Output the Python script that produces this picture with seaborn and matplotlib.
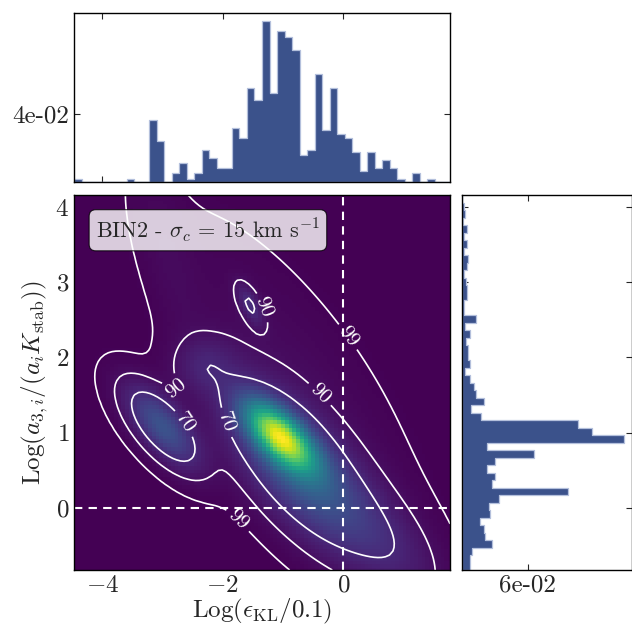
import numpy as np
import pandas as pd
import matplotlib
matplotlib.use("Agg")
import matplotlib.pyplot as plt
import seaborn as sns

# ---------------- data ----------------
x_range = [-4.47, 1.77]          # Log(eps_KL/0.1) span of the sample
y_range = [-0.83, 4.164]         # Log(a3i/(ai Kstab)) span of the sample
n_bins = 50

# fraction of systems per bin (top marginal, left -> right)
top_hist = [0.0016, 0, 0, 0, 0, 0, 0, 0.0016, 0, 0,
            0.0365, 0.0238, 0, 0.0049, 0.0111, 0.0016, 0.0049, 0.0189, 0.0142, 0.0078,
            0.0078, 0.0318, 0.0254, 0.0552, 0.0478, 0.0946, 0.0521, 0.0883, 0.0852, 0.0774,
            0.0158, 0.0189, 0.0632, 0.0302, 0.0552, 0.0283, 0.0254, 0.0174, 0.0062, 0.0174,
            0.0078, 0.0127, 0.0078, 0.0016, 0, 0.0049, 0, 0.0016, 0, 0]

# fraction of systems per bin (right marginal, bottom -> top)
right_hist = [0.0070, 0.0070, 0.0085, 0.0273, 0.0212, 0.0197, 0.0167, 0.0258, 0.0242, 0.0333,
              0.0970, 0.0273, 0.0303, 0.0227, 0.0303, 0.0660, 0.0227, 0.1485, 0.1190, 0.1064,
              0.0176, 0.0080, 0.0203, 0.0127, 0.0112, 0.0067, 0.0024, 0.0067, 0.0048, 0.0050,
              0.0038, 0.0067, 0.0024, 0.0130, 0.0012, 0.0018, 0.0040, 0.0040, 0.0035, 0.0018,
              0.0040, 0.0055, 0.0018, 0.0040, 0.0018, 0.0040, 0.0010, 0.0024, 0.0012, 0]

# 2-D density: components
comp_x       = [-1.05, -0.70, -3.00, -1.55, -0.90, -2.90, 0.80, -2.30]
comp_y       = [ 0.95,  0.50,  1.08,  2.70,  1.90,  3.30, -0.50, 1.90]
comp_s_major = [0.45, 1.00, 0.50, 0.22, 1.70, 0.85, 0.70, 0.35]
comp_s_minor = [0.20, 0.42, 0.22, 0.10, 0.60, 0.28, 0.35, 0.25]
comp_angle   = [-35, -40, -40, -55, -45, -70, -40, 0]
comp_weight  = [0.22, 0.40, 0.09, 0.008, 0.07, 0.015, 0.05, 0.02]

contour_percent = [99, 90, 70]
label_spots = {99: [(-0.05, 2.2), (-1.85, -0.25)],
               90: [(-0.5, 1.42), (-1.44, 2.63), (-2.6, 1.17)],
               70: [(-1.99, 1.12), (-2.88, 0.99)]}
panel_label = r"BIN2 - $\sigma_c$ = 15 km s$^{-1}$"
x_label = r"Log$(\epsilon_{\rm KL}/0.1)$"
y_label = r"Log$(a_{3,i}/(a_i K_{\rm stab}))$"

# ---------------- style ----------------
sns.set_style("ticks")
plt.rcParams.update({
    "font.family": "serif",
    "font.serif": ["cmr10"],
    "mathtext.fontset": "cm",
    "axes.formatter.use_mathtext": True,
    "axes.unicode_minus": True,
    "font.size": 18,
    "xtick.direction": "in",
    "ytick.direction": "in",
    "axes.linewidth": 1.0,
    "axes.edgecolor": "black",
})

bar_color = "#3b528b"
edge_color = "#b4c0dc"

fig = plt.figure(figsize=(6.32, 6.25), dpi=100)
W, H = 632.0, 625.0
ax = fig.add_axes([74 / W, 55 / H, 376 / W, 375 / H])
ax_top = fig.add_axes([74 / W, (H - 181.7) / H, 376 / W, 169 / H])
ax_right = fig.add_axes([462.3 / W, 55 / H, 169.7 / W, 375 / H])

# ---------------- density panel ----------------
nx, ny = 100, 100
xc = np.linspace(x_range[0], x_range[1], nx)
yc = np.linspace(y_range[0], y_range[1], ny)
X, Y = np.meshgrid(xc, yc)
Z = np.zeros_like(X)
for cx, cy, s1, s2, ang, w in zip(comp_x, comp_y, comp_s_major, comp_s_minor,
                                  comp_angle, comp_weight):
    t = np.deg2rad(ang)
    dx, dy = X - cx, Y - cy
    u = dx * np.cos(t) + dy * np.sin(t)
    v = -dx * np.sin(t) + dy * np.cos(t)
    Z += w * np.exp(-0.5 * (u ** 2 / s1 ** 2 + v ** 2 / s2 ** 2)) / (2 * np.pi * s1 * s2)

ax.pcolormesh(X, Y, Z, cmap="viridis", shading="nearest", vmin=0, rasterized=True)

zs = np.sort(Z.ravel())[::-1]
cum = np.cumsum(zs) / zs.sum()
for p in contour_percent:
    lev = zs[np.searchsorted(cum, p / 100.0)]
    cs = ax.contour(X, Y, Z, levels=[lev], colors="white", linewidths=1.2)
    ax.clabel(cs, fmt={cs.levels[0]: str(p)}, manual=label_spots[p],
              inline=True, fontsize=15, colors="white")

ax.axvline(0, color="white", ls="--", lw=1.5, dashes=(4, 3))
ax.axhline(0, color="white", ls="--", lw=1.5, dashes=(4, 3))
ax.set_xlim(x_range)
ax.set_ylim(y_range)
ax.set_xticks([-4, -2, 0])
ax.set_yticks([0, 1, 2, 3, 4])
ax.tick_params(top=True, right=True, labelsize=18, length=4)
ax.set_xlabel(x_label, fontsize=18, labelpad=0)
ax.set_ylabel(y_label, fontsize=18, labelpad=4)
ax.text(0.058, 0.943, panel_label, transform=ax.transAxes, fontsize=16,
        va="top", ha="left",
        bbox=dict(boxstyle="round,pad=0.3", facecolor="white", alpha=0.8,
                  edgecolor="black", linewidth=0.8))

# ---------------- marginals ----------------
xedges = np.linspace(x_range[0], x_range[1], n_bins + 1)
yedges = np.linspace(y_range[0], y_range[1], n_bins + 1)
top_df = pd.DataFrame({"x": 0.5 * (xedges[1:] + xedges[:-1]), "w": top_hist})
right_df = pd.DataFrame({"y": 0.5 * (yedges[1:] + yedges[:-1]), "w": right_hist})

sns.histplot(data=top_df, x="x", weights="w", bins=xedges.tolist(), ax=ax_top,
             element="step", fill=True, color=bar_color, alpha=1,
             edgecolor=edge_color, linewidth=0.9)
ax_top.set_xlim(x_range)
ax_top.set_ylim(0, max(top_hist) * 1.05)
ax_top.set_xticks([-4, -2, 0])
ax_top.set_yticks([0.04])
ax_top.set_yticklabels(["4e-02"])
ax_top.tick_params(top=True, right=True, labelbottom=False, labelsize=18, length=4)
ax_top.set_xlabel("")
ax_top.set_ylabel("")

sns.histplot(data=right_df, y="y", weights="w", bins=yedges.tolist(), ax=ax_right,
             element="step", fill=True, color=bar_color, alpha=1,
             edgecolor=edge_color, linewidth=0.9)
ax_right.set_ylim(y_range)
ax_right.set_xlim(0, max(right_hist) * 1.05)
ax_right.set_yticks([0, 1, 2, 3, 4])
ax_right.set_xticks([0.06])
ax_right.set_xticklabels(["6e-02"])
ax_right.tick_params(top=True, right=True, labelleft=False, labelsize=18, length=4)
ax_right.set_xlabel("")
ax_right.set_ylabel("")

fig.savefig("out.png", dpi=100)
